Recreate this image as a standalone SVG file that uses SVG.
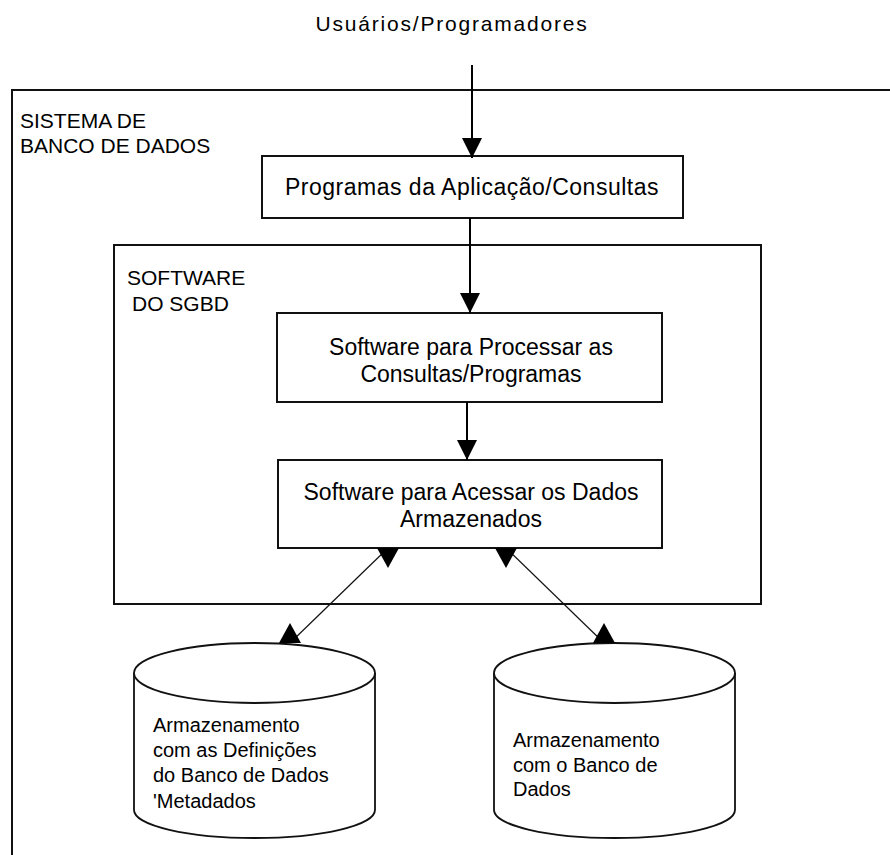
<svg xmlns="http://www.w3.org/2000/svg" width="890" height="855" viewBox="0 0 890 855">
  <style>
    .frame { fill: none; stroke: #111; stroke-width: 2; }
    .box { fill: #fff; stroke: #111; stroke-width: 2; }
    .cyl { fill: #fff; stroke: #111; stroke-width: 1.8; }
    .flow { stroke: #000; stroke-width: 2; fill: none; }
    .link { stroke: #111; stroke-width: 1.2; fill: none; }
    text { font-family: "Liberation Sans", Arial, sans-serif; fill: #000; }
    .lbl { font-size: 21px; }
    .big { font-size: 23px; text-anchor: middle; }
    .db { font-size: 20px; }
  </style>
  <defs>
    <marker id="arrow" viewBox="0 0 20 20" markerUnits="userSpaceOnUse" markerWidth="20" markerHeight="20" refX="20" refY="10" orient="auto">
      <path d="M0,0 L20,10 L0,20 z" fill="#000"/>
    </marker>
    <marker id="headDown" viewBox="0 0 22 20" markerUnits="userSpaceOnUse" markerWidth="22" markerHeight="20" refX="11" refY="0" orient="0">
      <path d="M0,0 L22,0 L11,20 z" fill="#000"/>
    </marker>
    <marker id="headUp" viewBox="0 0 22 20" markerUnits="userSpaceOnUse" markerWidth="22" markerHeight="20" refX="11" refY="20" orient="0">
      <path d="M0,20 L22,20 L11,0 z" fill="#000"/>
    </marker>
  </defs>

  <rect width="890" height="855" fill="#fff"/>

  <!-- users label -->
  <g id="users">
    <text class="lbl" x="452" y="31" text-anchor="middle" letter-spacing="1.8">Usuários/Programadores</text>
  </g>

  <!-- outer system frame -->
  <g id="system">
    <rect class="frame" x="12" y="90" width="900" height="800"/>
    <text class="lbl" x="20" y="128">SISTEMA DE</text>
    <text class="lbl" x="20" y="153">BANCO DE DADOS</text>
  </g>

  <!-- DBMS software frame -->
  <g id="sgbd">
    <rect class="frame" x="114" y="245" width="647" height="359"/>
    <text class="lbl" x="127" y="285">SOFTWARE</text>
    <text class="lbl" x="132" y="311">DO SGBD</text>
  </g>

  <g id="app">
    <rect class="box" x="262" y="156" width="421" height="62"/>
    <text class="big" x="472" y="195" letter-spacing="0.5">Programas da Aplicação/Consultas</text>
  </g>

  <g id="query">
    <rect class="box" x="277" y="313" width="385" height="89"/>
    <text class="big" x="471" y="355">Software para Processar as</text>
    <text class="big" x="471" y="382">Consultas/Programas</text>
  </g>

  <g id="access">
    <rect class="box" x="278" y="460" width="384" height="88"/>
    <text class="big" x="471" y="500">Software para Acessar os Dados</text>
    <text class="big" x="471" y="527">Armazenados</text>
  </g>

  <g id="metadata">
    <path class="cyl" d="M134,673 L134,810 A120.5,28 0 0 0 375,810 L375,673"/>
    <ellipse class="cyl" cx="254.5" cy="673" rx="120.5" ry="30"/>
    <text class="db" x="153" y="732">Armazenamento</text>
    <text class="db" x="153" y="757">com as Definições</text>
    <text class="db" x="153" y="782">do Banco de Dados</text>
    <text class="db" x="153" y="808">'Metadados</text>
  </g>

  <g id="database">
    <path class="cyl" d="M494,673 L494,810 A120.5,28 0 0 0 735,810 L735,673"/>
    <ellipse class="cyl" cx="614.5" cy="673" rx="120.5" ry="30"/>
    <text class="db" x="513" y="747">Armazenamento</text>
    <text class="db" x="513" y="772">com o Banco de</text>
    <text class="db" x="513" y="796">Dados</text>
  </g>

  <!-- connectors -->
  <g id="connectors">
    <line class="flow" x1="472" y1="65" x2="472" y2="158" marker-end="url(#arrow)"/>
    <line class="flow" x1="470" y1="218" x2="470" y2="313" marker-end="url(#arrow)"/>
    <line class="flow" x1="467" y1="402" x2="467" y2="460" marker-end="url(#arrow)"/>
    <line class="link" x1="388" y1="548" x2="290" y2="643" marker-start="url(#headDown)" marker-end="url(#headUp)"/>
    <line class="link" x1="506" y1="548" x2="604" y2="643" marker-start="url(#headDown)" marker-end="url(#headUp)"/>
  </g>
</svg>
